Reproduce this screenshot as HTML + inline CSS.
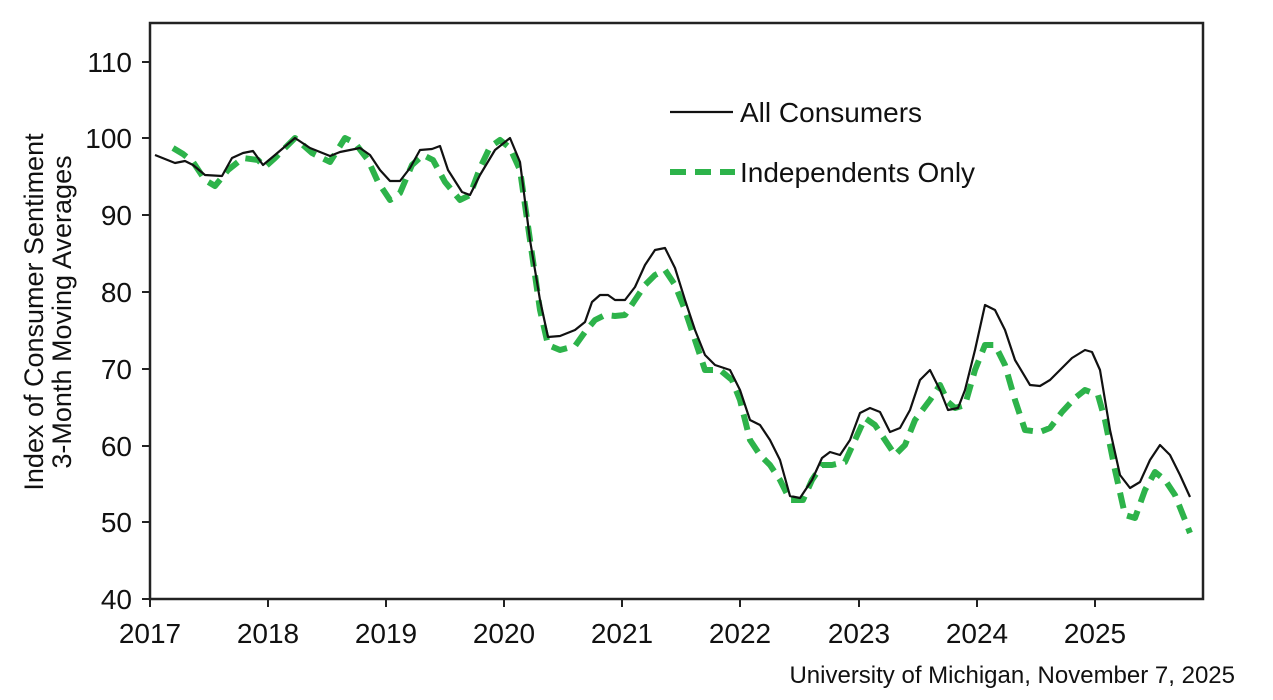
<!DOCTYPE html>
<html><head><style>body{margin:0;background:#fff}svg{display:block}</style></head><body>
<svg width="1273" height="700" xmlns="http://www.w3.org/2000/svg" font-family="Liberation Sans, Arial, sans-serif">
<rect x="150" y="23" width="1053" height="576" fill="none" stroke="#222" stroke-width="2.5"/>
<g stroke="#222" stroke-width="2">
<line x1="142" y1="62" x2="150" y2="62"/><line x1="142" y1="138" x2="150" y2="138"/><line x1="142" y1="215" x2="150" y2="215"/><line x1="142" y1="292" x2="150" y2="292"/><line x1="142" y1="369" x2="150" y2="369"/><line x1="142" y1="446" x2="150" y2="446"/><line x1="142" y1="522" x2="150" y2="522"/><line x1="142" y1="599" x2="150" y2="599"/>
<line x1="150" y1="599" x2="150" y2="607"/><line x1="268" y1="599" x2="268" y2="607"/><line x1="386" y1="599" x2="386" y2="607"/><line x1="504" y1="599" x2="504" y2="607"/><line x1="622" y1="599" x2="622" y2="607"/><line x1="740" y1="599" x2="740" y2="607"/><line x1="859" y1="599" x2="859" y2="607"/><line x1="977" y1="599" x2="977" y2="607"/><line x1="1095" y1="599" x2="1095" y2="607"/>
</g>
<g font-size="28" fill="#111" text-anchor="end">
<text x="132" y="72">110</text><text x="132" y="148">100</text><text x="132" y="225">90</text><text x="132" y="302">80</text><text x="132" y="379">70</text><text x="132" y="456">60</text><text x="132" y="532">50</text><text x="132" y="609">40</text>
</g>
<g font-size="28" fill="#111" text-anchor="middle">
<text x="150" y="643">2017</text><text x="268" y="643">2018</text><text x="386" y="643">2019</text><text x="504" y="643">2020</text><text x="622" y="643">2021</text><text x="740" y="643">2022</text><text x="859" y="643">2023</text><text x="977" y="643">2024</text><text x="1095" y="643">2025</text>
</g>
<g font-size="27" fill="#111" text-anchor="middle">
<text transform="translate(43,312) rotate(-90)">Index of Consumer Sentiment</text>
<text transform="translate(71,312) rotate(-90)">3-Month Moving Averages</text>
</g>
<text x="1235" y="683" font-size="24" fill="#111" text-anchor="end">University of Michigan, November 7, 2025</text>
<polyline fill="none" stroke="#2db34a" stroke-width="6" stroke-dasharray="16,9" stroke-linejoin="round" points="173,148 183,154 193,162 205,180 215,186 228,170 243,158 258,160 265,167 275,158 295,138 312,153 330,162 345,138 355,143 368,160 378,182 390,200 400,193 412,165 423,155 433,160 445,182 460,200 470,195 480,168 490,147 500,140 510,148 520,170 530,240 540,310 548,345 560,350 575,346 585,332 595,320 605,315 615,316 625,315 635,300 645,285 655,275 665,270 675,285 685,310 695,340 705,370 720,370 732,380 740,400 750,440 760,455 770,465 780,480 790,500 803,500 812,480 822,465 832,465 845,462 855,440 865,418 875,425 885,440 895,455 905,445 915,420 930,400 940,385 948,402 955,408 965,405 975,370 985,345 995,345 1005,365 1015,400 1025,430 1040,432 1050,428 1062,412 1075,398 1085,390 1098,395 1105,420 1115,470 1125,515 1135,518 1145,490 1155,472 1165,480 1175,495 1185,520 1190,533"/>
<polyline fill="none" stroke="#111" stroke-width="2.2" stroke-linejoin="round" points="155,155 175,163 185,161 193,165 205,175 222,176 232,158 243,153 253,151 263,165 275,155 295,138 310,148 330,156 340,152 360,148 370,155 380,170 390,181 400,181 410,168 420,150 432,149 440,146 448,170 462,192 470,195 480,175 495,150 510,138 520,162 530,240 540,300 548,337 560,336 575,330 585,322 592,302 600,295 608,295 615,300 625,300 635,287 645,265 655,250 665,248 675,268 685,300 695,330 705,355 715,365 730,370 740,390 750,420 760,425 770,440 780,460 790,496 800,498 812,480 822,458 830,452 840,455 850,440 860,413 870,408 880,412 890,432 900,428 910,410 920,380 930,370 940,390 948,410 958,408 965,390 975,350 985,305 995,310 1005,330 1015,360 1030,385 1040,386 1050,380 1060,370 1072,358 1085,350 1092,352 1100,370 1110,430 1120,475 1130,488 1140,482 1150,460 1160,445 1170,455 1180,475 1190,497"/>
<line x1="670" y1="112" x2="733" y2="112" stroke="#111" stroke-width="2.2"/>
<text x="740" y="122" font-size="28" fill="#111">All Consumers</text>
<line x1="670" y1="172" x2="735" y2="172" stroke="#2db34a" stroke-width="6" stroke-dasharray="16,9"/>
<text x="740" y="182" font-size="28" fill="#111">Independents Only</text>
</svg>
</body></html>
